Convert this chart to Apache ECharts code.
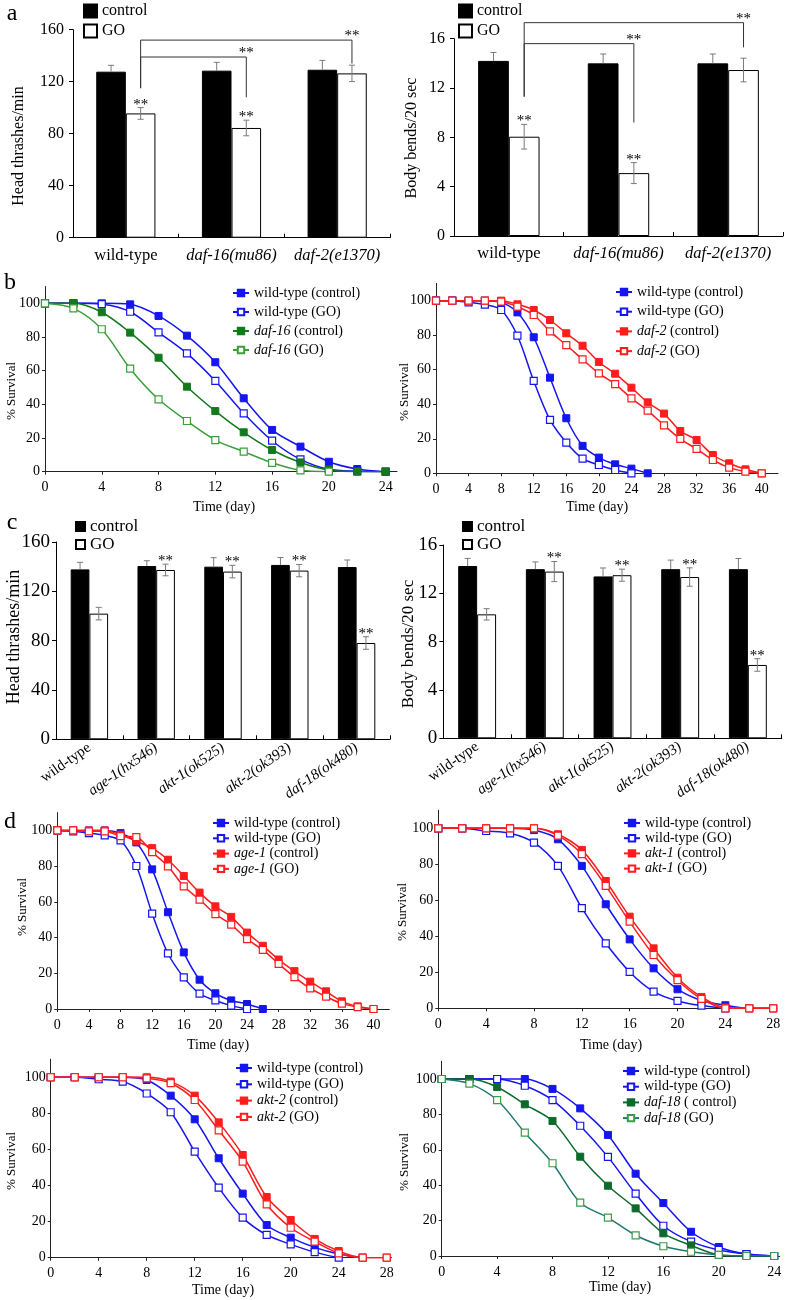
<!DOCTYPE html>
<html><head><meta charset="utf-8">
<script src="https://cdn.jsdelivr.net/npm/echarts@6/dist/echarts.min.js"></script>
<style>html,body{margin:0;padding:0;background:#fff}#c{width:787px;height:1300px}</style>
</head><body><div id="c"></div>
<script>
// ---------------- DATA ----------------
// Panel a (bar charts)
const aCats = ['wild-type', 'daf-16(mu86)', 'daf-2(e1370)'];
const aHeadCtrl = [127.7, 128.5, 129.2];
const aHeadCtrlErr = [4.9, 6.4, 7.2];
const aHeadGO = [95.6, 84.4, 126.4];
const aHeadGOErr = [4.5, 6.0, 6.3];
const aHeadStars = [1, 1, 0];
const aBendCtrl = [14.2, 14.0, 14.0];
const aBendCtrlErr = [0.68, 0.76, 0.76];
const aBendGO = [8.05, 5.1, 13.46];
const aBendGOErr = [1.0, 0.85, 0.96];
const aBendStars = [1, 1, 0];
// significance brackets: [fromCat, toCat, level, dropFrom, dropTo] (value units)
const aHeadBrackets = [[0, 2, 152, 115, 134], [0, 1, 139, 115, 108]];
const aBendBrackets = [[0, 2, 17.3, 11.3, 15.3], [0, 1, 15.6, 11.3, 9.2]];

// Panel c (bar charts)
const cCats = ['wild-type', 'age-1(hx546)', 'akt-1(ok525)', 'akt-2(ok393)', 'daf-18(ok480)'];
const cHeadCtrl = [137.8, 140.5, 140.0, 141.4, 139.7];
const cHeadCtrlErr = [5.7, 4.3, 7.3, 6.0, 5.7];
const cHeadGO = [101.9, 137.3, 136.0, 136.8, 78.1];
const cHeadGOErr = [5.1, 4.7, 5.1, 5.0, 5.1];
const cBendCtrl = [14.26, 14.0, 13.4, 14.0, 14.0];
const cBendCtrlErr = [0.63, 0.6, 0.7, 0.75, 0.88];
const cBendGO = [10.26, 13.8, 13.5, 13.35, 6.07];
const cBendGOErr = [0.47, 0.83, 0.5, 0.76, 0.52];
const cStars = [0, 1, 1, 1, 1];

// Survival curves (% survival at days 0,2,4,...)
const days = [0, 2, 4, 6, 8, 10, 12, 14, 16, 18, 20, 22, 24, 26, 28, 30, 32, 34, 36, 38, 40];
// b left
const bL_wtCtrl = [100, 100, 100, 99.4, 92.5, 80.8, 65, 43.6, 24.8, 14.9, 5.9, 1.6, 0];
const bL_wtGO = [100, 100, 99.5, 95, 82.8, 70.3, 53.9, 34.7, 18.4, 7.3, 1.4, 0.3, 0];
const bL_daf16Ctrl = [100, 100, 94.7, 82.6, 67.7, 50.5, 36, 23.4, 12.9, 5.5, 1, 0, 0];
const bL_daf16GO = [100, 97, 84.6, 61.2, 43, 30.1, 18.8, 11.9, 5.3, 0.8, 0];
// b right
const bR_wtCtrl = [100, 100, 100, 100, 99, 93.2, 78.8, 55.4, 31.9, 15.9, 9.1, 5.2, 2.7, 0];
const bR_wtGO = [100, 100, 99, 97.7, 94.6, 79.7, 53.5, 30.9, 17.8, 8.5, 4.8, 1.9, 0];
const bR_daf2Ctrl = [100, 100, 100, 100, 100, 97.9, 94.6, 88.8, 81.1, 73.9, 64.5, 57.7, 49.6, 41.1, 34.6, 24.5, 19.3, 10.6, 5.8, 2.3, 0];
const bR_daf2GO = [100, 100, 100, 100, 99.5, 96.5, 91.7, 82.2, 74.3, 66, 57.9, 51.7, 43.4, 36.3, 27.8, 19.9, 14.1, 7.7, 3.3, 1, 0];
// d top-left
const d1_wtCtrl = [100, 100, 100, 100, 98.5, 93.3, 78.2, 54.2, 31.7, 16.4, 8.8, 4.8, 2.8, 0];
const d1_wtGO = [100, 99.5, 98.5, 97.2, 94.4, 80.1, 53.4, 31.1, 17.7, 8.6, 4.8, 1.9, 0];
const d1_age1Ctrl = [100, 100, 100, 100, 97.6, 93.9, 90.1, 83.6, 74.5, 65.2, 57.5, 51.6, 42.8, 35.4, 27.7, 21.2, 15.3, 9.9, 4.3, 1.5, 0];
const d1_age1GO = [100, 100, 99.5, 99.5, 96.8, 96.3, 87.9, 79.9, 68.7, 61.3, 53.1, 47.3, 39.1, 33.1, 25.3, 17.9, 11.5, 6.9, 3, 1.1, 0];
// d top-right
const d2_wtCtrl = [100, 100, 100, 100, 99, 93.9, 79.1, 57.8, 38.3, 22.2, 10.6, 4.3, 1.7, 0, 0];
const d2_wtGO = [100, 100, 98.5, 97.2, 92, 79.1, 55.6, 36.1, 20.2, 9.3, 4.1, 1.5, 0];
const d2_akt1Ctrl = [100, 100, 100, 100, 100, 96.7, 88, 70.7, 50.9, 33.3, 17, 6.3, 0.4, 0, 0];
const d2_akt1GO = [100, 100, 100, 100, 100, 95.9, 85.7, 68, 48.1, 29.6, 15.6, 5.2, 0, 0, 0];
// d bottom-left
const d3_wtCtrl = [100, 100, 100, 100, 98.5, 89.8, 76.7, 55.1, 35.5, 18.1, 11.1, 5.7, 2, 0];
const d3_wtGO = [100, 100, 98.9, 97.6, 91, 80.6, 58.8, 38.8, 22.2, 12.6, 7.4, 3.1, 0];
const d3_akt2Ctrl = [100, 100, 100, 100, 100, 97.6, 89.8, 75, 56.9, 33.6, 20.9, 10.4, 3.7, 0, 0];
const d3_akt2GO = [100, 100, 100, 100, 99.4, 96.7, 87.4, 70.6, 53.2, 29.6, 16.6, 8.9, 2.4, 0, 0];
// d bottom-right
const d4_wtCtrl = [100, 100, 100, 100, 94.4, 83.4, 68.4, 46.5, 29.9, 13.7, 5.1, 1.1, 0];
const d4_wtGO = [100, 100, 100, 96.2, 88.1, 73.6, 56, 35.2, 17.1, 8.1, 3.4, 1.1, 0];
const d4_daf18Ctrl = [100, 100, 95.5, 85.7, 76.3, 56.1, 39.7, 26.9, 12.8, 6, 0.6, 0, 0];
const d4_daf18GO = [100, 97.4, 88.1, 69.7, 52.4, 30.1, 21.7, 11.7, 5.5, 2.4, 0.6, 0, 0];

// ---------------- STYLE ----------------
const FONT = '"Liberation Serif","Times New Roman",serif';
const BLUE = '#1515f2', RED = '#ff1c1c', GREEN = '#13791d', GREEN_GO = '#3d9e3d', D18 = '#0d6a2c', D18GO = '#1e776c', D18GO_M = '#3c9a4c';
const BAR_FRAC = 0.28;
const GENE_RE = /^(daf-16|daf-2|daf-18|age-1|akt-1|akt-2)/;

const grids = [], xAxes = [], yAxes = [], series = [], legends = [], graphics = [];

function errRender(starFont) {
  return function (params, api) {
    const cat = api.value(0), v = api.value(1), e = api.value(2), side = api.value(3), full = api.value(4), star = api.value(5);
    const band = api.size([1, 0])[0];
    const base = api.coord([cat, v]);
    const x = base[0] + side * band * BAR_FRAC / 2;
    const yTop = api.coord([cat, v + e])[1];
    const yBot = full ? api.coord([cat, v - e])[1] : base[1];
    const cap = 3, st = { stroke: '#7a7a7a', lineWidth: 1 };
    const ch = [
      { type: 'line', shape: { x1: x, y1: yTop, x2: x, y2: yBot }, style: st },
      { type: 'line', shape: { x1: x - cap, y1: yTop, x2: x + cap, y2: yTop }, style: st }
    ];
    if (full) ch.push({ type: 'line', shape: { x1: x - cap, y1: yBot, x2: x + cap, y2: yBot }, style: st });
    if (star) ch.push({ type: 'text', style: { text: '**', x: x, y: yTop - 3, align: 'center', verticalAlign: 'middle', fontFamily: FONT, fontSize: starFont, fill: '#000' } });
    return { type: 'group', children: ch };
  };
}
function bracketRender(starFont) {
  return function (params, api) {
    const band = api.size([1, 0])[0];
    const off = band * BAR_FRAC / 2;
    const x1 = api.coord([api.value(0), 0])[0] + off;
    const x2 = api.coord([api.value(1), 0])[0] + off;
    const yl = api.coord([0, api.value(2)])[1];
    const y1 = api.coord([0, api.value(3)])[1];
    const y2 = api.coord([0, api.value(4)])[1];
    return { type: 'group', children: [
      { type: 'polyline', shape: { points: [[x1, y1], [x1, yl], [x2, yl], [x2, y2]] }, style: { stroke: '#333', lineWidth: 1, fill: null } },
      { type: 'text', style: { text: '**', x: x2, y: yl - 4, align: 'center', verticalAlign: 'middle', fontFamily: FONT, fontSize: starFont, fill: '#000' } }
    ] };
  };
}

function barPanel(p) {
  const gi = grids.length;
  grids.push({ left: p.box[0], top: p.box[1], width: p.box[2], height: p.box[3], outerBoundsMode: 'none', containLabel: false });
  xAxes.push({ gridIndex: gi, type: 'category', data: p.cats,
    axisLine: { show: true, lineStyle: { color: '#000', width: 1 } },
    axisTick: { show: true, inside: true, length: 4, lineStyle: { color: '#000' } },
    axisLabel: { show: true, interval: 0, rotate: p.rotate || 0, margin: p.xMargin, fontFamily: FONT, fontSize: p.xFont, color: '#000',
      formatter: v => v === 'wild-type' ? v : '{i|' + v + '}',
      rich: { i: { fontStyle: 'italic', fontFamily: FONT, fontSize: p.xFont, color: '#000' } } },
    splitLine: { show: false } });
  yAxes.push({ gridIndex: gi, type: 'value', min: 0, max: p.max, interval: p.interval,
    axisLine: { show: true, lineStyle: { color: '#000' } },
    axisTick: { show: true, length: 4, lineStyle: { color: '#000' } },
    axisLabel: { fontFamily: FONT, fontSize: p.yFont, color: '#000', margin: p.yMargin },
    splitLine: { show: false } });
  series.push({ type: 'bar', name: 'control', xAxisIndex: gi, yAxisIndex: gi, data: p.ctrl, barWidth: '28%', barGap: '0%',
    itemStyle: { color: '#000', borderColor: '#000', borderWidth: 1 }, silent: true });
  series.push({ type: 'bar', name: 'GO', xAxisIndex: gi, yAxisIndex: gi, data: p.go, barWidth: '28%', barGap: '0%',
    itemStyle: { color: '#fff', borderColor: '#000', borderWidth: 1 }, silent: true });
  const errData = [];
  p.ctrl.forEach((v, i) => errData.push([i, v, p.ctrlErr[i], -1, 0, 0]));
  p.go.forEach((v, i) => errData.push([i, v, p.goErr[i], 1, 1, p.stars[i]]));
  series.push({ type: 'custom', xAxisIndex: gi, yAxisIndex: gi, data: errData, renderItem: errRender(p.starFont), z: 5, silent: true, clip: false });
  if (p.brackets) series.push({ type: 'custom', xAxisIndex: gi, yAxisIndex: gi, data: p.brackets, renderItem: bracketRender(p.starFont), z: 5, silent: true, clip: false });
  legends.push({ data: ['control', 'GO'], orient: 'vertical', left: p.leg[0], top: p.leg[1], padding: 0,
    itemGap: p.leg[3], itemWidth: p.leg[2], itemHeight: p.leg[2], icon: 'rect', selectedMode: false,
    textStyle: { fontFamily: FONT, fontSize: p.legFont, color: '#000' } });
}

function linePanel(p) {
  const gi = grids.length;
  grids.push({ left: p.box[0], top: p.box[1], width: p.box[2], height: p.box[3], outerBoundsMode: 'none', containLabel: false });
  xAxes.push({ gridIndex: gi, type: 'value', min: 0, max: p.xmax, interval: 4,
    axisLine: { show: true, onZero: false, lineStyle: { color: '#222' } },
    axisTick: { show: true, length: 3, lineStyle: { color: '#222' } },
    axisLabel: { fontFamily: FONT, fontSize: 14, color: '#000', margin: 9, showMaxLabel: p.showMax },
    splitLine: { show: false } });
  yAxes.push({ gridIndex: gi, type: 'value', min: 0, max: 110, interval: 20,
    axisLine: { show: true, lineStyle: { color: '#222' } },
    axisTick: { show: true, length: 3, lineStyle: { color: '#222' } },
    axisLabel: { fontFamily: FONT, fontSize: 14, color: '#000', margin: 5, showMaxLabel: false },
    splitLine: { show: false } });
  p.lines.forEach(l => {
    series.push({ type: 'line', name: l.name, xAxisIndex: gi, yAxisIndex: gi,
      data: l.values.map((v, i) => [days[i], v]),
      smooth: 0.3, symbol: 'rect', symbolSize: 7, showSymbol: true, silent: true, animation: false,
      lineStyle: { color: l.color, width: 1.5 },
      itemStyle: l.open ? { color: '#fff', borderColor: l.mcolor || l.color, borderWidth: 1.2 } : { color: l.mcolor || l.color, borderColor: l.mcolor || l.color, borderWidth: 1 } });
  });
  legends.push({ data: p.lines.map(l => l.name), orient: 'vertical', left: p.leg[0], top: p.leg[1], padding: 0,
    itemGap: p.leg[2], itemWidth: 16, itemHeight: 8, selectedMode: false,
    formatter: n => GENE_RE.test(n) ? n.replace(GENE_RE, '{i|$1}') : n,
    textStyle: { fontFamily: FONT, fontSize: 14, color: '#000',
      rich: { i: { fontStyle: 'italic', fontFamily: FONT, fontSize: 14, color: '#000' } } } });
}

function txt(text, x, y, size, rot, style) {
  graphics.push({ type: 'text', x: x, y: y, rotation: rot || 0, silent: true,
    style: { text: text, align: 'center', verticalAlign: 'middle', fontFamily: FONT, fontSize: size, fill: '#000', fontStyle: style || 'normal' } });
}

// ---------------- PANELS ----------------
barPanel({ box: [73, 29.7, 317, 208], cats: aCats, max: 160, interval: 40, ctrl: aHeadCtrl, ctrlErr: aHeadCtrlErr, go: aHeadGO, goErr: aHeadGOErr,
  stars: aHeadStars, brackets: aHeadBrackets, xFont: 16.5, xMargin: 9, yFont: 16, yMargin: 9, starFont: 15, leg: [83, 3, 13, 4], legFont: 16 });
barPanel({ box: [454, 38.7, 329, 197.3], cats: aCats, max: 16, interval: 4, ctrl: aBendCtrl, ctrlErr: aBendCtrlErr, go: aBendGO, goErr: aBendGOErr,
  stars: aBendStars, brackets: aBendBrackets, xFont: 16.5, xMargin: 9, yFont: 16, yMargin: 9, starFont: 15, leg: [458, 3, 13, 4], legFont: 16 });
linePanel({ box: [45, 286.5, 352, 185.2], xmax: 24.8, showMax: false, leg: [232, 286, 5], lines: [
  { name: 'wild-type (control)', values: bL_wtCtrl, color: BLUE },
  { name: 'wild-type (GO)', values: bL_wtGO, color: BLUE, open: true },
  { name: 'daf-16 (control)', values: bL_daf16Ctrl, color: GREEN },
  { name: 'daf-16 (GO)', values: bL_daf16GO, color: GREEN_GO, open: true }] });
linePanel({ box: [436, 283.4, 342, 189.9], xmax: 42, showMax: false, leg: [615, 285, 5.7], lines: [
  { name: 'wild-type (control)', values: bR_wtCtrl, color: BLUE },
  { name: 'wild-type (GO)', values: bR_wtGO, color: BLUE, open: true },
  { name: 'daf-2 (control)', values: bR_daf2Ctrl, color: RED },
  { name: 'daf-2 (GO)', values: bR_daf2GO, color: RED, open: true }] });
barPanel({ box: [56, 542, 334, 197.3], cats: cCats, max: 160, interval: 40, ctrl: cHeadCtrl, ctrlErr: cHeadCtrlErr, go: cHeadGO, goErr: cHeadGOErr,
  stars: cStars, rotate: 35, xFont: 15, xMargin: 7, yFont: 19, yMargin: 6, starFont: 15, leg: [75, 518, 9, 1], legFont: 17 });
barPanel({ box: [443.3, 545, 338.4, 193.3], cats: cCats, max: 16, interval: 4, ctrl: cBendCtrl, ctrlErr: cBendCtrlErr, go: cBendGO, goErr: cBendGOErr,
  stars: cStars, rotate: 35, xFont: 15, xMargin: 7, yFont: 19, yMargin: 6, starFont: 15, leg: [462, 518, 9, 1], legFont: 17 });
linePanel({ box: [57.3, 812.6, 332, 196.4], xmax: 42, showMax: false, leg: [212, 816, 1.3], lines: [
  { name: 'wild-type (control)', values: d1_wtCtrl, color: BLUE },
  { name: 'wild-type (GO)', values: d1_wtGO, color: BLUE, open: true },
  { name: 'age-1 (control)', values: d1_age1Ctrl, color: RED },
  { name: 'age-1 (GO)', values: d1_age1GO, color: RED, open: true }] });
linePanel({ box: [438.3, 810.3, 338.5, 198], xmax: 28.3, showMax: false, leg: [623, 816, 1.2], lines: [
  { name: 'wild-type (control)', values: d2_wtCtrl, color: BLUE },
  { name: 'wild-type (GO)', values: d2_wtGO, color: BLUE, open: true },
  { name: 'akt-1 (control)', values: d2_akt1Ctrl, color: RED },
  { name: 'akt-1 (GO)', values: d2_akt1GO, color: RED, open: true }] });
linePanel({ box: [50.7, 1059.2, 340.8, 198.5], xmax: 28.4, showMax: false, leg: [235, 1061, 2.3], lines: [
  { name: 'wild-type (control)', values: d3_wtCtrl, color: BLUE },
  { name: 'wild-type (GO)', values: d3_wtGO, color: BLUE, open: true },
  { name: 'akt-2 (control)', values: d3_akt2Ctrl, color: RED },
  { name: 'akt-2 (GO)', values: d3_akt2GO, color: RED, open: true }] });
linePanel({ box: [441.7, 1061.3, 338, 194.7], xmax: 24.4, showMax: false, leg: [622, 1064, 1.7], lines: [
  { name: 'wild-type (control)', values: d4_wtCtrl, color: BLUE },
  { name: 'wild-type (GO)', values: d4_wtGO, color: BLUE, open: true },
  { name: 'daf-18 ( control)', values: d4_daf18Ctrl, color: D18 },
  { name: 'daf-18 (GO)', values: d4_daf18GO, color: D18GO, mcolor: D18GO_M, open: true }] });

// ---------------- TEXT ----------------
const R = Math.PI / 2;
txt('a', 12, 14, 24); txt('b', 10, 283, 24); txt('c', 12, 523, 24); txt('d', 10, 822, 24);
txt('Head thrashes/min', 19, 146, 16, R);
txt('Body bends/20 sec', 412, 138, 16, R);
txt('% Survival', 12, 391, 13, R);
txt('% Survival', 405, 392, 13, R);
txt('Head thrashes/min', 14, 637, 18, R);
txt('Body bends/20 sec', 409, 644, 17, R);
txt('% Survival', 23, 907, 13, R);
txt('% Survival', 403, 912, 13, R);
txt('% Survival', 12, 1161, 13, R);
txt('% Survival', 405, 1162, 13, R);
txt('Time (day)', 224, 507, 14); txt('Time (day)', 597, 507, 14);
txt('Time (day)', 218, 1045, 14); txt('Time (day)', 611, 1045, 14);
txt('Time (day)', 223, 1290, 14); txt('Time (day)', 620, 1287, 14);

const chart = echarts.init(document.getElementById('c'), null, { renderer: 'canvas', width: 787, height: 1300 });
chart.setOption({
  animation: false,
  backgroundColor: '#fff',
  grid: grids, xAxis: xAxes, yAxis: yAxes, series: series, legend: legends, graphic: graphics
});
</script></body></html>
